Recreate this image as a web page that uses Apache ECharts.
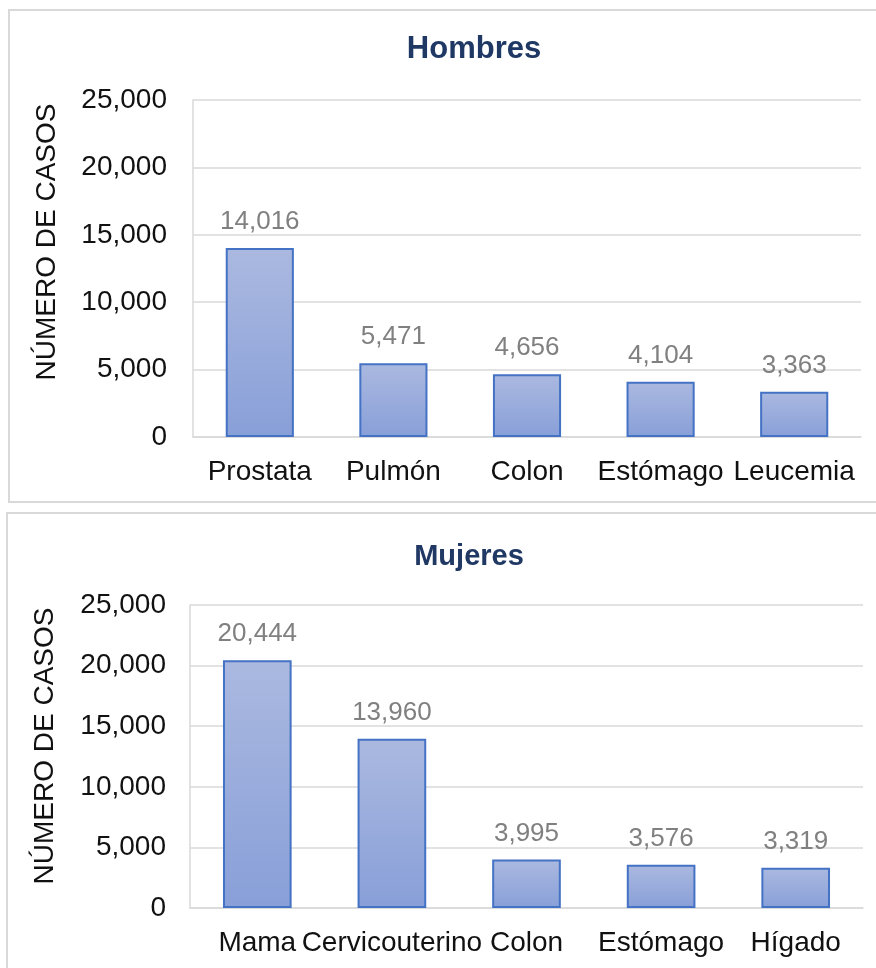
<!DOCTYPE html>
<html>
<head>
<meta charset="utf-8">
<script src="https://cdn.jsdelivr.net/npm/echarts@6/dist/echarts.min.js"></script>
<style>
  html, body { margin: 0; padding: 0; background: #fff; }
  #chart { width: 876px; height: 968px; }
</style>
</head>
<body>
<div id="chart"></div>
<script>
// Casos de cáncer por sitio, hombres y mujeres
const menCategories = ['Prostata', 'Pulmón', 'Colon', 'Estómago', 'Leucemia'];
const menValues = [14016, 5471, 4656, 4104, 3363];
const womenCategories = ['Mama', 'Cervicouterino', 'Colon', 'Estómago', 'Hígado'];
const womenValues = [20444, 13960, 3995, 3576, 3319];
const yTicks = [0, 5000, 10000, 15000, 20000, 25000];
const yAxisTitle = 'NÚMERO DE CASOS';

const FONT = '"Liberation Sans", Arial, sans-serif';
const fmt = v => v.toLocaleString('en-US');

const barStyle = {
  color: {
    type: 'linear', x: 0, y: 0, x2: 0, y2: 1,
    colorStops: [
      { offset: 0, color: '#abb9e0' },
      { offset: 1, color: '#889fd8' }
    ]
  },
  borderColor: '#4472c4',
  borderWidth: 2
};

function yAxis(gridIndex, margin) {
  return {
    type: 'value',
    gridIndex,
    min: yTicks[0],
    max: yTicks[yTicks.length - 1],
    interval: yTicks[1] - yTicks[0],
    axisLine: { show: true, lineStyle: { color: '#d9d9d9', width: 1.5 } },
    axisTick: { show: false },
    splitLine: { lineStyle: { color: '#d9d9d9', width: 1.5 } },
    axisLabel: { fontFamily: FONT, fontSize: 28, color: '#111', margin, formatter: fmt }
  };
}

function xAxis(gridIndex, cats) {
  return {
    type: 'category',
    gridIndex,
    data: cats,
    axisLine: { lineStyle: { color: '#d9d9d9', width: 1.5 } },
    axisTick: { show: false },
    axisLabel: { fontFamily: FONT, fontSize: 28, color: '#111', margin: 21, interval: 0 }
  };
}

function barSeries(idx, values) {
  return {
    type: 'bar',
    xAxisIndex: idx,
    yAxisIndex: idx,
    data: values,
    barWidth: '51%',
    itemStyle: barStyle,
    label: {
      show: true,
      position: 'top',
      distance: 13,
      fontFamily: FONT,
      fontSize: 26,
      color: '#808080',
      formatter: p => fmt(p.value)
    }
  };
}

function axisTitle(x, y) {
  return {
    type: 'text', x, y, rotation: Math.PI / 2,
    style: {
      text: yAxisTitle, fontFamily: FONT, fontSize: 28, fill: '#111',
      align: 'center', verticalAlign: 'middle'
    }
  };
}

const chart = echarts.init(document.getElementById('chart'), null, { renderer: 'canvas' });
chart.setOption({
  backgroundColor: '#fff',
  animation: false,
  graphic: [
    { type: 'rect', shape: { x: 9, y: 10, width: 900, height: 492 },
      style: { fill: 'none', stroke: '#d9d9d9', lineWidth: 2 }, z: -1 },
    { type: 'rect', shape: { x: 7, y: 513, width: 900, height: 480 },
      style: { fill: 'none', stroke: '#d9d9d9', lineWidth: 2 }, z: -1 },
    axisTitle(47, 242),
    axisTitle(45, 746)
  ],
  title: [
    { text: 'Hombres', left: 469, top: 29, textAlign: 'center',
      textStyle: { fontFamily: FONT, fontSize: 31, fontWeight: 'bold', color: '#1f3864' } },
    { text: 'Mujeres', left: 464, top: 537, textAlign: 'center',
      textStyle: { fontFamily: FONT, fontSize: 29, fontWeight: 'bold', color: '#1f3864' } }
  ],
  grid: [
    { left: 193, right: 15, top: 100, height: 337, containLabel: false },
    { left: 190, right: 13, top: 605, height: 303, containLabel: false }
  ],
  xAxis: [xAxis(0, menCategories), xAxis(1, womenCategories)],
  yAxis: [yAxis(0, 26), yAxis(1, 24)],
  series: [barSeries(0, menValues), barSeries(1, womenValues)]
});
</script>
</body>
</html>
